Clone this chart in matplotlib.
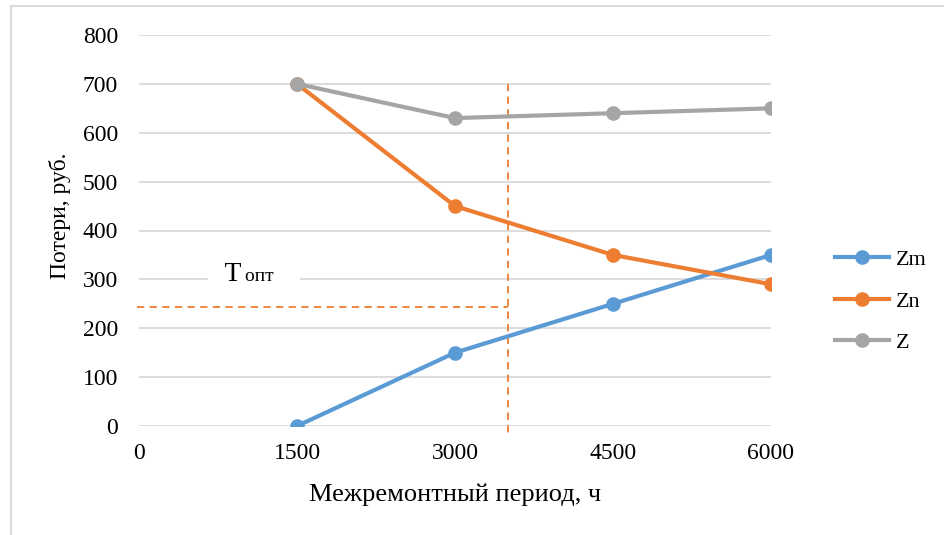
import matplotlib.pyplot as plt
from matplotlib.patches import Rectangle

plt.rcParams['font.family'] = ['Liberation Serif', 'DejaVu Serif']

# данные
periods = [1500, 3000, 4500, 6000]
zm = [0, 150, 250, 350]
zn = [700, 450, 350, 290]
z = [700, 630, 640, 650]
x_ticks = [0, 1500, 3000, 4500, 6000]
y_ticks = [0, 100, 200, 300, 400, 500, 600, 700, 800]

t_opt = 3500      # оптимальный период
z_opt_level = 243  # уровень горизонтальной пунктирной линии

blue = '#5B9BD5'
orange = '#ED7D31'
gray = '#A5A5A5'

fig = plt.figure(figsize=(9.44, 5.35), dpi=100)
ax = fig.add_axes([139 / 944, 1 - 426 / 535, 632 / 944, 391 / 535])

# рамка рисунка
fig.patches.append(Rectangle((10.5 / 944, -0.1), 1.2, 1 - 5.5 / 535 + 0.1,
                             transform=fig.transFigure, fill=False,
                             edgecolor='#D9D9D9', linewidth=1.5))

ax.plot(periods, zm, color=blue, lw=3, marker='o', ms=9.5, label='Zm', zorder=3)
ax.plot(periods, zn, color=orange, lw=3, marker='o', ms=9.5, label='Zn', zorder=3)
ax.plot(periods, z, color=gray, lw=3, marker='o', ms=9.5, label='Z', zorder=3)

# пунктирные линии оптимума
ax.plot([t_opt, t_opt], [700, -22], color=orange, lw=1.3, ls=(0, (4, 3)), clip_on=False, zorder=2)
ax.plot([-20, t_opt], [z_opt_level, z_opt_level], color=orange, lw=1.3, ls=(0, (4, 3)),
        clip_on=False, zorder=2)

# подпись Топт на белом фоне
ax.text(968, 297, '  T', fontsize=20, ha='right', va='baseline',
        bbox=dict(facecolor='white', edgecolor='none', pad=2), zorder=2.5)
ax.text(1005, 297, 'опт     ', fontsize=14, ha='left', va='baseline',
        bbox=dict(facecolor='white', edgecolor='none', pad=1.5), zorder=2.6)

ax.set_xlim(0, 6000)
ax.set_ylim(0, 800)
ax.set_xticks(x_ticks)
ax.set_yticks(y_ticks)
ax.tick_params(length=0, labelsize=17)
ax.tick_params(axis='x', pad=12)
ax.tick_params(axis='y', pad=15)
ax.grid(axis='y', color='#D9D9D9', lw=1.3)
ax.set_axisbelow(True)
for s in ax.spines.values():
    s.set_visible(False)

ax.set_xlabel('Межремонтный период, ч', fontsize=19, labelpad=14)
ax.set_ylabel('Потери, руб.', fontsize=17)
ax.yaxis.set_label_coords(-0.108, 0.537)

ax.legend(loc='center left', bbox_to_anchor=(1.069, 0.319), frameon=False,
          fontsize=16, handlelength=2.47, labelspacing=0.94, handletextpad=0.3)

fig.savefig('out.png', dpi=100)
